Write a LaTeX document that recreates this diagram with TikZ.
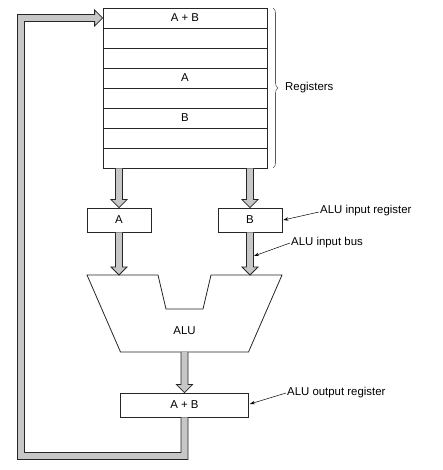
\documentclass[tikz,border=0pt]{standalone}
\usepackage{fontspec}
\setmainfont{Liberation Sans}
\usetikzlibrary{arrows.meta,calc,decorations.pathreplacing}
\newcommand{\busdown}[2]{\filldraw[bus] let \p1=#1, \p2=#2 in (\x1-3.5pt,\y1) -- (\x1-3.5pt,\y2+8pt) -- (\x1-8pt,\y2+8pt) -- (\x1,\y2) -- (\x1+8pt,\y2+8pt) -- (\x1+3.5pt,\y2+8pt) -- (\x1+3.5pt,\y1);}
\begin{document}
\begin{tikzpicture}[x=1pt,y=1pt,
  font=\fontsize{11.4}{13}\selectfont,
  box/.style={draw=black!85, line width=0.8pt, fill=white, minimum height=24pt, inner sep=0pt},
  regrow/.style={draw=black!85, line width=0.8pt, minimum width=164pt, minimum height=20pt, inner sep=0pt},
  bus/.style={draw=black!85, line width=0.8pt, fill=black!22, line join=miter},
  note/.style={draw=black, line width=0.5pt, -{Stealth[length=5pt,width=3.5pt]}},
]
\useasboundingbox (0,0) rectangle (443,470);
\foreach \i/\t in {1/A + B,2/,3/,4/A,5/,6/B,7/,8/}
  \node[regrow] (r\i) at (185,{472-20*\i}) {\t};
\node[box, minimum width=64pt] (A) at (119,250) {A};
\node[box, minimum width=64pt] (B) at (250,250) {B};
\draw[line width=0.8pt, draw=black!85] (87,195) -- (158,195) -- (166,161) -- (203,161) -- (211,195) -- (282,195) -- (248.5,118) -- (120.5,118) -- cycle;
\coordinate (inA) at (119,195);
\coordinate (inB) at (250,195);
\coordinate (aluout) at (184.5,118);
\node (alu) at (184.5,139) {ALU};
\node[box, minimum width=128pt] (out) at (184.5,65) {A + B};
\busdown{(r8.south -| A.north)}{(A.north)}
\busdown{(r8.south -| B.north)}{(B.north)}
\busdown{(A.south)}{(inA)}
\busdown{(B.south)}{(inB)}
\busdown{(aluout)}{(out.north)}
\filldraw[bus] let \p1=(out.south), \p2=(r1.west) in
 (\x1+3.5pt,\y1) -- (\x1+3.5pt,10.5) -- (17.5,10.5) -- (17.5,\y2+3.5pt) -- (\x2-8pt,\y2+3.5pt) -- (\x2-8pt,\y2+8pt) -- (\x2,\y2) -- (\x2-8pt,\y2-8pt) -- (\x2-8pt,\y2-3.5pt) -- (24.5,\y2-3.5pt) -- (24.5,17.5) -- (\x1-3.5pt,17.5) -- (\x1-3.5pt,\y1);
\draw[decorate, decoration={brace, amplitude=5pt}, line width=0.6pt, black!65] (273,462) -- (273,302);
\node[anchor=west, inner sep=0pt] (reglbl) at (285,382) {Registers};
\node[anchor=west, inner sep=0pt] (lir) at (320,259) {ALU input register};
\draw[note] ([xshift=-1pt,yshift=-1pt]lir.west) -- ([xshift=1pt]B.east);
\coordinate (busBedge) at (254,214);
\node[anchor=west, inner sep=0pt] (lib) at (291,227) {ALU input bus};
\draw[note] ([xshift=-1pt]lib.west) -- (busBedge);
\node[anchor=west, inner sep=0pt] (lor) at (287,77) {ALU output register};
\draw[note] ([xshift=-1pt]lor.west) -- ([xshift=1pt,yshift=1pt]out.east);
\end{tikzpicture}
\end{document}
